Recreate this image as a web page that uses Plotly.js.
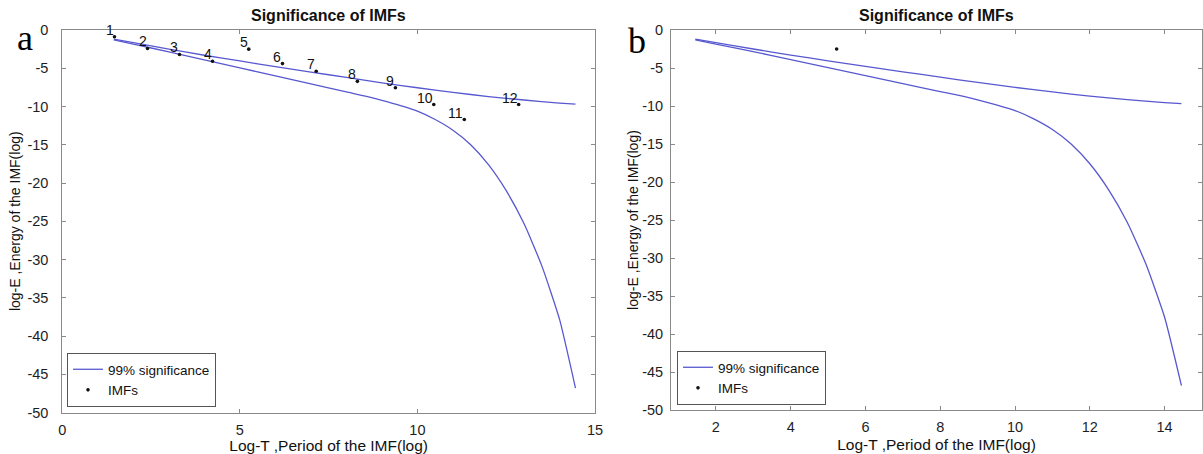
<!DOCTYPE html>
<html>
<head>
<meta charset="utf-8">
<script src="https://cdn.plot.ly/plotly-3.0.1.min.js"></script>
<style>html,body{margin:0;padding:0;background:#fff;}#chart{width:1203px;height:454px;}</style>
</head>
<body>
<div id="chart"></div>
<script>
// ---- data ----
const imfLabels = ['1','2','3','4','5','6','7','8','9','10','11','12'];
const imfLogT = [1.47, 2.40, 3.30, 4.23, 5.25, 6.20, 7.15, 8.31, 9.38, 10.46, 11.32, 12.85];
const imfLogE = [-0.88, -2.41, -3.20, -4.08, -2.50, -4.39, -5.39, -6.71, -7.54, -9.74, -11.70, -9.74];

const imfBLogT = [5.23];
const imfBLogE = [-2.50];

const upperLogT = [1.45, 2, 3, 4, 5, 6, 7, 8, 9, 10, 11, 12, 13, 14, 14.45];
const upperLogE = [-1.2, -1.65, -2.5, -3.3, -4.05, -4.8, -5.5, -6.2, -6.9, -7.55, -8.15, -8.7, -9.15, -9.55, -9.7];

const lowerLogT = [1.45, 2, 3, 4, 5, 6, 7, 8, 8.5, 9, 9.5, 10, 10.5, 11, 11.5, 12, 12.5, 13, 13.5, 14, 14.45];
const lowerLogE = [-1.3, -1.85, -2.85, -3.9, -4.95, -6.0, -7.05, -8.1, -8.6, -9.2, -9.85, -10.6, -11.7, -13.1, -15.0, -17.6, -21.0, -25.3, -30.8, -37.8, -46.8];

// tick labels
const yTickVals = [0, -5, -10, -15, -20, -25, -30, -35, -40, -45, -50];
const yTickText = ['0', '-5', '-10', '-15', '-20', '-25', '-30', '-35', '-40', '-45', '-50'];
const xTickValsA = [0, 5, 10, 15];
const xTickTextA = ['0', '5', '10', '15'];
const xTickValsB = [2, 4, 6, 8, 10, 12, 14];
const xTickTextB = ['2', '4', '6', '8', '10', '12', '14'];

const panelTitle = 'Significance of IMFs';
const xTitle = 'Log-T ,Period of the IMF(log)';
const yTitle = 'log-E ,Energy of the IMF(log)';
const lineName = '99% significance';
const pointName = 'IMFs';

// ---- styling ----
const FONT = 'Liberation Sans, Arial, sans-serif';
const SERIF = 'Liberation Serif, Times New Roman, serif';
const LINE_COLOR = 'rgb(88,88,208)';
const AX_COLOR = '#8a8a8a';

function line(x, y, xa, ya, show, legend) {
  return {x: x, y: y, xaxis: xa, yaxis: ya, type: 'scatter', mode: 'lines',
    name: lineName, showlegend: show, legend: legend,
    line: {color: LINE_COLOR, width: 1.3, shape: 'spline', smoothing: 0.5}, hoverinfo: 'skip'};
}
function pts(x, y, xa, ya, legend) {
  return {x: x, y: y, xaxis: xa, yaxis: ya, type: 'scatter', mode: 'markers',
    name: pointName, legend: legend,
    marker: {color: '#111', size: 3.6, symbol: 'circle'}, hoverinfo: 'skip'};
}

const traces = [
  line(upperLogT, upperLogE, 'x', 'y', true, 'legend'),
  line(lowerLogT, lowerLogE, 'x', 'y', false, 'legend'),
  pts(imfLogT, imfLogE, 'x', 'y', 'legend'),
  line(upperLogT, upperLogE, 'x2', 'y2', true, 'legend2'),
  line(lowerLogT, lowerLogE, 'x2', 'y2', false, 'legend2'),
  pts(imfBLogT, imfBLogE, 'x2', 'y2', 'legend2')
];

const axBase = {
  showline: true, linecolor: AX_COLOR, linewidth: 1, mirror: 'ticks',
  ticks: 'inside', ticklen: 4, tickcolor: AX_COLOR, tickwidth: 1,
  zeroline: false, showgrid: false, fixedrange: true, tickmode: 'array',
  tickfont: {family: FONT, size: 14.5, color: '#1e1e1e'}
};

const W = 1203, H = 454, MB = 41;
const PH = H - MB;                 // plot-area height in px (paper coords)
const px2x = p => p / W;
const px2y = p => 1 - p / PH;

const annotations = [];
// panel titles
[[(62.3 + 595) / 2], [(671 + 1202) / 2]].forEach(c => {
  annotations.push({text: '<b>' + panelTitle + '</b>', xref: 'paper', yref: 'paper',
    x: px2x(c[0]), y: px2y(16), xanchor: 'center', yanchor: 'middle', showarrow: false,
    font: {family: FONT, size: 16, color: '#111'}});
});
// panel letters
annotations.push({text: 'a', xref: 'paper', yref: 'paper', x: px2x(25), y: px2y(38),
  xanchor: 'center', yanchor: 'middle', showarrow: false,
  font: {family: SERIF, size: 36, color: '#000'}});
annotations.push({text: 'b', xref: 'paper', yref: 'paper', x: px2x(637), y: px2y(41),
  xanchor: 'center', yanchor: 'middle', showarrow: false,
  font: {family: SERIF, size: 36, color: '#000'}});
// IMF number labels
for (let i = 0; i < imfLabels.length; i++) {
  annotations.push({text: imfLabels[i], x: imfLogT[i], y: imfLogE[i], xref: 'x', yref: 'y',
    showarrow: false, xanchor: 'right', yanchor: 'bottom', xshift: 1, yshift: -3,
    font: {family: FONT, size: 14, color: '#111'}});
}

const legendBase = {
  bgcolor: '#fff', bordercolor: '#555', borderwidth: 1,
  font: {family: FONT, size: 13.5, color: '#111'},
  xanchor: 'left', yanchor: 'bottom', itemwidth: 30, tracegroupgap: 0,
  itemclick: false, itemdoubleclick: false
};

const layout = {
  width: W, height: H,
  margin: {l: 0, r: 0, t: 0, b: MB},
  paper_bgcolor: '#fff', plot_bgcolor: '#fff',
  showlegend: true,
  font: {family: FONT, color: '#111'},
  xaxis: Object.assign({}, axBase, {
    domain: [px2x(62.3), px2x(595)], range: [0, 15],
    tickvals: xTickValsA, ticktext: xTickTextA,
    anchor: 'y', ticklabelstandoff: 4,
    title: {text: xTitle, font: {family: FONT, size: 15.5, color: '#111'}, standoff: 0}
  }),
  yaxis: Object.assign({}, axBase, {
    domain: [px2y(412.5), px2y(30)], range: [-50, 0],
    tickvals: yTickVals, ticktext: yTickText, anchor: 'x',
    ticklabelstandoff: 10,
    title: {text: yTitle, font: {family: FONT, size: 14, color: '#111'}, standoff: 3}
  }),
  xaxis2: Object.assign({}, axBase, {
    domain: [px2x(671), px2x(1202)], range: [0.8, 15],
    tickvals: xTickValsB, ticktext: xTickTextB,
    anchor: 'y2', ticklabelstandoff: 4,
    title: {text: xTitle, font: {family: FONT, size: 15.5, color: '#111'}, standoff: 4}
  }),
  yaxis2: Object.assign({}, axBase, {
    domain: [px2y(410), px2y(30)], range: [-50, 0],
    tickvals: yTickVals, ticktext: yTickText, anchor: 'x2',
    ticklabelstandoff: 4,
    title: {text: yTitle, font: {family: FONT, size: 14, color: '#111'}, standoff: 0}
  }),
  legend: Object.assign({}, legendBase, {x: px2x(67), y: px2y(407)}),
  legend2: Object.assign({}, legendBase, {x: px2x(677), y: px2y(405)}),
  annotations: annotations
};

Plotly.newPlot('chart', traces, layout, {displayModeBar: false, staticPlot: true});
</script>
</body>
</html>
